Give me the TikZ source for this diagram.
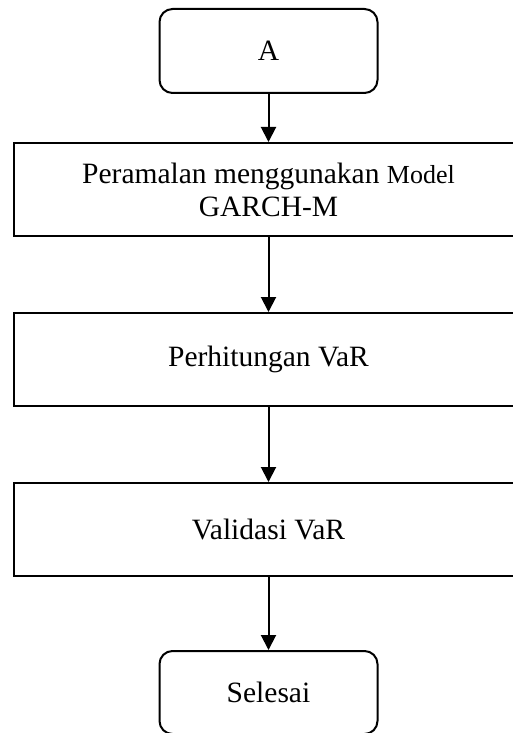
\documentclass[tikz,border=0pt]{standalone}
\usepackage{fontspec}
\setmainfont{Liberation Serif}
\usetikzlibrary{arrows.meta}
\begin{document}
\begin{tikzpicture}[x=1pt,y=-1pt,
  box/.style={draw=black, line width=2pt, fill=white, align=center, inner sep=0pt,
    font=\fontsize{29.5}{33}\selectfont},
  term/.style={box, rounded corners=13pt, minimum width=218pt, minimum height=84pt},
  proc/.style={box, minimum width=510pt, minimum height=93pt},
  flow/.style={line width=2pt, -{Triangle[length=15pt,width=15pt]}}]
\useasboundingbox[fill=white] (0,0) rectangle (512,733);
\node[term] (a) at (268.5,51) {A};
\node[proc] (b1) at (268.5,189.5) {Peramalan menggunakan {\fontsize{26}{33}\selectfont Model}\\GARCH-M};
\node[proc] (b2) at (268.5,359.5) {Perhitungan VaR};
\node[proc] (b3) at (268.5,529.5) {Validasi VaR};
\node[term, minimum height=83pt] (s) at (268.5,692.5) {Selesai};
\draw[flow] (a.south) -- (b1.north);
\draw[flow] (b1.south) -- (b2.north);
\draw[flow] (b2.south) -- (b3.north);
\draw[flow] (b3.south) -- (s.north);
\end{tikzpicture}
\end{document}
